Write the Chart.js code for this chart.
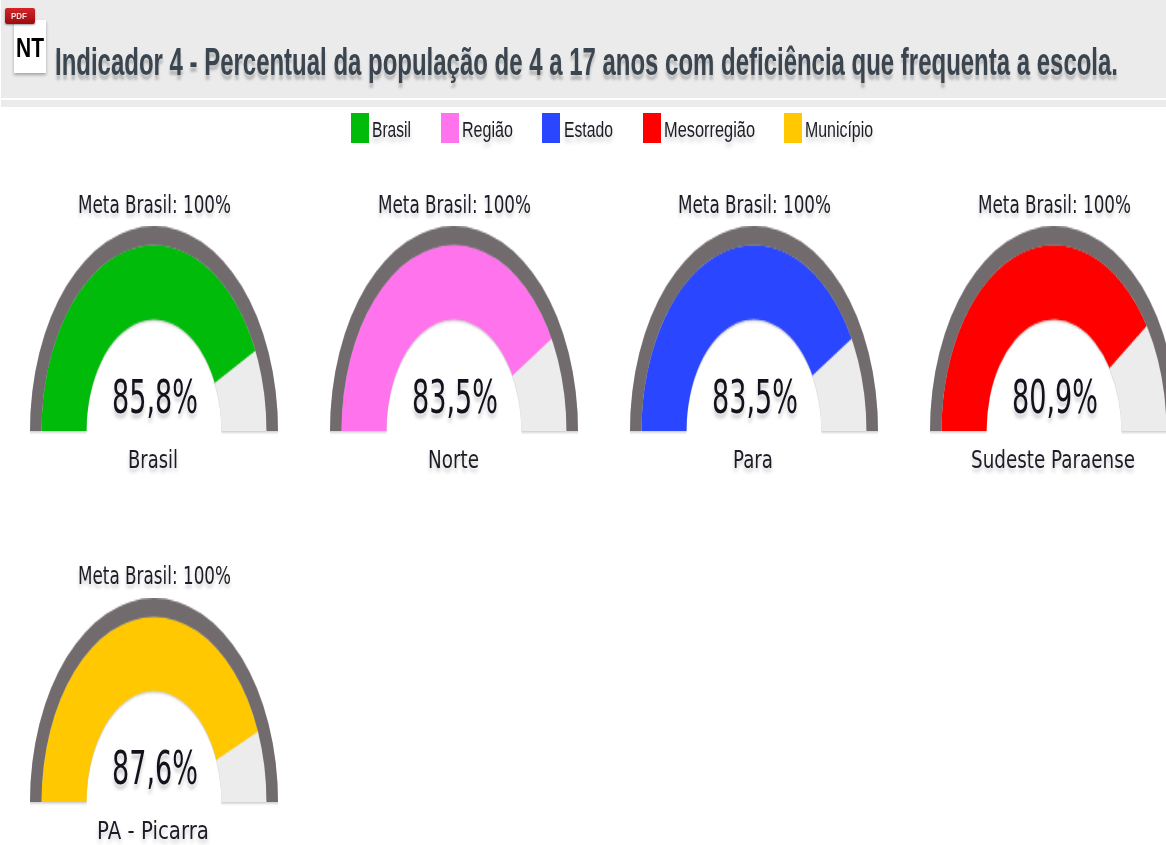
<!DOCTYPE html>
<html lang="pt"><head><meta charset="utf-8">
<script src="https://cdn.jsdelivr.net/npm/chart.js@4"></script>
<style>
html,body{margin:0;padding:0;background:#fff}
#page{position:relative;width:1166px;height:845px;overflow:hidden}
.t{position:absolute;white-space:nowrap;line-height:1;transform-origin:0 0;font-family:"DejaVu Sans",sans-serif;color:#1c1c26;text-shadow:0 3px 3px rgba(0,0,0,.2);filter:blur(.35px)}
.g{position:absolute;width:248px;height:124px;transform-origin:50% 100%;filter:drop-shadow(0 1px .6px rgba(0,0,0,.2))}
</style></head><body><div id="page"></div>
<script>
const titleText = "Indicador 4 - Percentual da população de 4 a 17 anos com deficiência que frequenta a escola.";
const gaugeNames = ["Brasil","Norte","Para","Sudeste Paraense","PA - Picarra"];
const gaugeValues = [85.8,83.5,83.5,80.9,87.6];
const gaugeLabels = ["85,8%","83,5%","83,5%","80,9%","87,6%"];
const gaugeColors = ["#00bb0a","#ff73ec","#2b46ff","#ff0000","#ffc800"];
const goalLabel = "Meta Brasil: 100%";
const goalValue = 100;
const legendNames = ["Brasil","Região","Estado","Mesorregião","Município"];
const legendColors = ["#00bb0a","#ff73ec","#2b46ff","#ff0000","#ffc800"];

const page = document.getElementById("page");
function box(css){const d=document.createElement("div");d.style.cssText=css;page.appendChild(d);return d;}
function text(str,x,cy,w,size,sy,extra){
  const d=document.createElement("div");d.className="t";d.textContent=str;
  d.style.fontSize=size+"px";d.style.left=x+"px";
  if(extra)d.style.cssText+=extra;
  page.appendChild(d);
  const r=d.getBoundingClientRect();
  const sx=w/r.width;
  d.style.top=(cy-r.height*sy/2)+"px";
  d.style.transform=`scale(${sx},${sy})`;
  return d;
}
// header
box("position:absolute;left:1px;right:0;top:0;height:98px;background:#ebebeb");
box("position:absolute;left:1px;right:0;top:100px;height:7px;background:#ebebeb");
// document icon
box("position:absolute;left:14px;top:20px;width:32px;height:53px;background:#fff;box-shadow:0 2px 3px rgba(0,0,0,.3);filter:blur(.4px)");
box("position:absolute;left:5px;top:8px;width:30px;height:16px;background:linear-gradient(#d4242a,#9c0c10);border-radius:2px;box-shadow:0 1px 2px rgba(0,0,0,.4);filter:blur(.4px)");
text("PDF",11,16,16,9,1,";font-family:'Liberation Sans';font-weight:bold;color:#f3dcdc;text-shadow:none");
text("NT",16,47,28,20,1.4,";font-family:'Liberation Sans';font-weight:bold;color:#000;text-shadow:none");
text(titleText,55,62,1063,24,1.65,";font-family:'Liberation Sans';font-weight:bold;color:#3a4550;text-shadow:0 3px 2px rgba(0,0,0,.22)");
// legend
const swX=[351,441,542,643,784], lgX=[372,462,564,664,805], lgW=[39,51,49,91,68];
legendNames.forEach((n,i)=>{
  box(`position:absolute;left:${swX[i]}px;top:113px;width:18px;height:30px;background:${legendColors[i]}`);
  text(n,lgX[i],129,lgW[i],14,1.6,";font-family:'Liberation Sans'");
});
// gauges
const cx=[154,454,754,1054,154], base=[431,431,431,431,802], stretch=[1.653,1.653,1.653,1.653,1.645];
const metaW=153, valW=[86,86,86,86,86], nameW=[50,51,40,164,112];
gaugeNames.forEach((n,i)=>{
  const holder=document.createElement("div");holder.className="g";
  holder.style.left=(cx[i]-124)+"px";holder.style.top=(base[i]-124)+"px";
  holder.style.transform=`scaleY(${stretch[i]})`;
  const c=document.createElement("canvas");c.width=248;c.height=124;holder.appendChild(c);page.appendChild(holder);
  new Chart(c,{type:"doughnut",data:{labels:[n,"Restante"],datasets:[
    {label:"Meta",data:[goalValue],backgroundColor:["#716b6e"],borderWidth:0,weight:11.5},
    {label:n,data:[gaugeValues[i],goalValue-gaugeValues[i]],backgroundColor:[gaugeColors[i],"#ececec"],borderWidth:0,weight:45}
  ]},options:{responsive:false,animation:false,rotation:-90,circumference:180,cutout:"54.4%",
    layout:{padding:0},plugins:{legend:{display:false},tooltip:{enabled:false}}}});
  text(goalLabel,cx[i]-76,base[i]-225.5,metaW,16.5,1.5);
  text(gaugeLabels[i],cx[i]-42,base[i]-33,valW[i],29,1.6,";color:#12121c");
  text(n,cx[i]-nameW[i]/2-1,base[i]+29,nameW[i],16.5,1.5);
});
</script></body></html>
